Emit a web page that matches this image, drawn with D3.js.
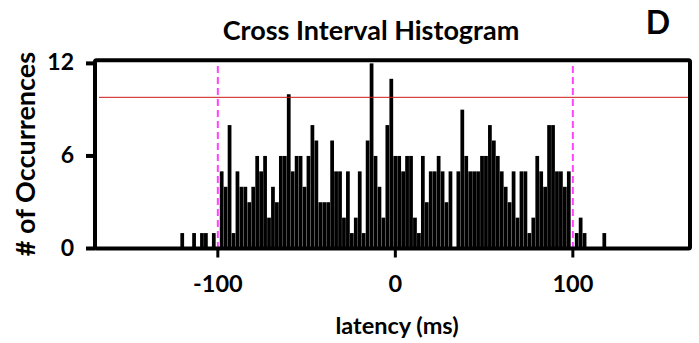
<!DOCTYPE html>
<html>
<head>
<meta charset="utf-8">
<script src="https://cdn.jsdelivr.net/npm/d3@7"></script>
<style>
  body { margin: 0; background: #fff; }
  text { font-family: Lato, "Open Sans", sans-serif; font-weight: 700; fill: #000; }
</style>
</head>
<body>
<svg width="699" height="343"></svg>
<script>
// histogram of cross intervals, bins centred from -120 to ~118 ms
var lagMin = -120, lagMax = 120;
var counts = [1,0,0,1,0,1,1,0,1,0, 5,4,8,1,5,4,4,3,4,6,
              5,6,2,4,3,6,6,10,5,6, 6,4,6,8,7,3,3,3,7,5,
              5,2,5,1,2,5,1,7,12,6, 4,2,8,11,6,6,5,6,6,2,
              1,6,3,5,5,6,5,3,5,0, 5,9,6,5,5,5,6,6,8,7,
              6,5,4,3,5,2,5,5,1,2, 6,5,4,8,8,5,5,4,5,0,
              1,2,1,0,0,0,0,1];
var xTicks = [-100, 0, 100];
var yTicks = [0, 6, 12];
var threshold = 9.8;
var windowEdges = [-100, 100];

var binWidth = (lagMax - lagMin) / counts.length;
var bins = counts.map(function(c, i) { return { lag: lagMin + i * binWidth, n: c }; });

var svg = d3.select('svg');

var pLeft = 95, pRight = 690, pTop = 60.3, pBottom = 248.5;

var x = d3.scaleLinear().domain([-169.2, 166]).range([pLeft, pRight]);
var y = d3.scaleLinear().domain([0, 12.2]).range([pBottom, pTop]);

// bars
svg.append("g").selectAll("rect")
    .data(bins)
    .enter().append("rect")
    .attr("x", function(d) { return x(d.lag - binWidth / 2); })
    .attr("width", function(d) { return x(d.lag + binWidth / 2) - x(d.lag - binWidth / 2) - 0.2; })
    .attr("y", function(d) { return y(d.n); })
    .attr("height", function(d) { return pBottom - y(d.n); })
    .attr("fill", "#000");

// threshold line
svg.append("line")
    .attr("x1", pLeft + 4).attr("x2", pRight - 2)
    .attr("y1", y(threshold)).attr("y2", y(threshold))
    .attr("stroke", "#d01818")
    .attr("stroke-width", 1);

// dashed +/-100 ms markers
svg.selectAll(".edge")
    .data(windowEdges)
    .enter().append("line")
    .attr("class", "edge")
    .attr("x1", function(d) { return x(d); })
    .attr("x2", function(d) { return x(d); })
    .attr("y1", 66).attr("y2", pBottom)
    .attr("stroke", "#ff44ff")
    .attr("stroke-width", 2)
    .attr("stroke-dasharray", "7,4");

// frame
svg.append("rect")
    .attr("x", pLeft).attr("y", pTop)
    .attr("width", pRight - pLeft).attr("height", pBottom - pTop)
    .attr("fill", "none")
    .attr("stroke", "#000")
    .attr("stroke-width", 4)
    .attr("rx", 1.5);

// y ticks + labels
svg.selectAll(".ytick")
    .data(yTicks)
    .enter().append("line")
    .attr("x1", pLeft - 9).attr("x2", pLeft)
    .attr("y1", function(d) { return y(d); })
    .attr("y2", function(d) { return y(d); })
    .attr("stroke", "#000").attr("stroke-width", 4);

svg.selectAll(".ylab")
    .data(yTicks)
    .enter().append("text")
    .attr("x", 74)
    .attr("y", function(d) { return y(d) - 2; })
    .attr("text-anchor", "end")
    .attr("dominant-baseline", "central")
    .style("font-size", "23px")
    .text(function(d) { return d; });

// x ticks + labels
svg.selectAll(".xtick")
    .data(xTicks)
    .enter().append("line")
    .attr("x1", function(d) { return x(d); })
    .attr("x2", function(d) { return x(d); })
    .attr("y1", pBottom).attr("y2", pBottom + 9)
    .attr("stroke", "#000").attr("stroke-width", 3);

svg.selectAll(".xlab")
    .data(xTicks)
    .enter().append("text")
    .attr("x", function(d) { return x(d); })
    .attr("y", 292)
    .attr("text-anchor", "middle")
    .style("font-size", "23.5px")
    .text(function(d) { return d; });

// titles
svg.append("text")
    .attr("x", 371).attr("y", 40)
    .attr("text-anchor", "middle")
    .style("font-size", "27px")
    .text("Cross Interval Histogram");

svg.append("text")
    .attr("x", 658).attr("y", 34)
    .attr("text-anchor", "middle")
    .style("font-size", "32px")
    .text("D");

svg.append("text")
    .attr("x", 397).attr("y", 334)
    .attr("text-anchor", "middle")
    .style("font-size", "23.5px")
    .text("latency (ms)");

svg.append("text")
    .attr("transform", "translate(35,154) rotate(-90)")
    .attr("text-anchor", "middle")
    .style("font-size", "27px")
    .text("# of Occurrences");
</script>
</body>
</html>
